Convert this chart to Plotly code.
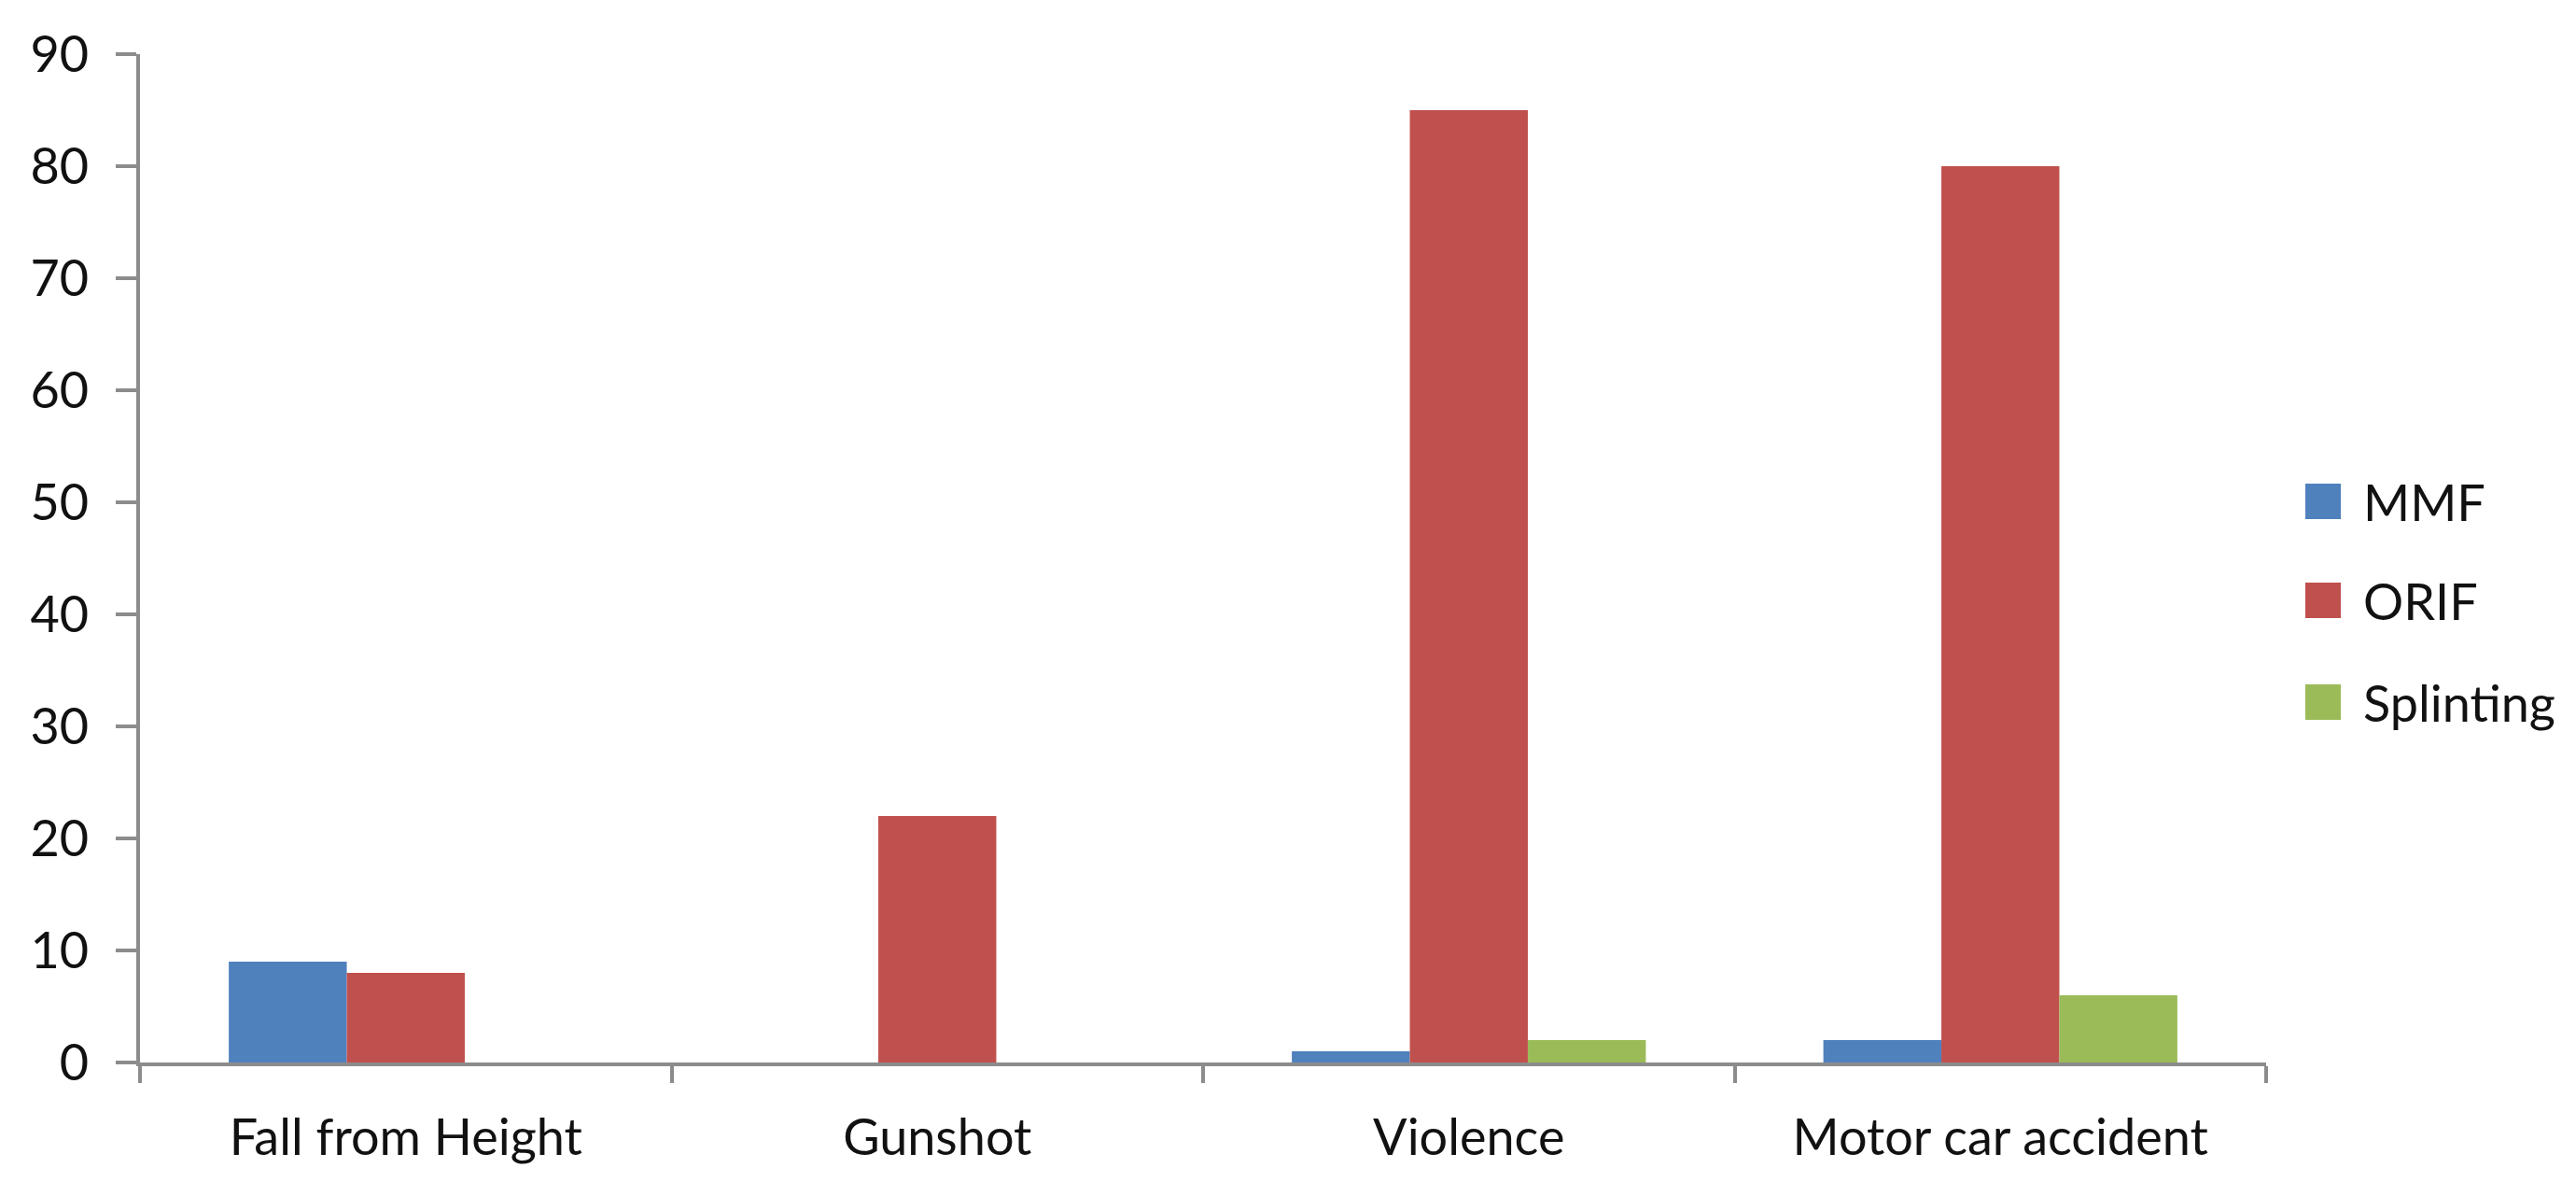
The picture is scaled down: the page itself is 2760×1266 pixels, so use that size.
import plotly.graph_objects as go

categories = ["Fall from Height", "Gunshot", "Violence", "Motor car accident"]
series_names = ["MMF", "ORIF", "Splinting"]
mmf = [9, 0, 1, 2]
orif = [8, 22, 85, 80]
splinting = [0, 0, 2, 6]
colors = ["#4F81BD", "#C0504D", "#9BBB59"]
y_ticks = [0, 10, 20, 30, 40, 50, 60, 70, 80, 90]

W, H = 2760, 1266
L, R, T, B = 142, 340, 50, 136

fig = go.Figure()
for name, vals, col in zip(series_names, [mmf, orif, splinting], colors):
    fig.add_trace(go.Bar(x=categories, y=vals, name=name,
                         marker=dict(color=col, line=dict(width=0)),
                         showlegend=False))

axis_col = "#8C8C8C"
font_fam = "Lato, 'Open Sans', sans-serif"
txt_col = "#111111"
fsize = 54

fig.update_layout(
    width=W, height=H,
    margin=dict(l=L, r=R, t=T, b=B, pad=0),
    paper_bgcolor="white", plot_bgcolor="white",
    barmode="group", bargap=0.334, bargroupgap=0,
    showlegend=False,
    font=dict(family=font_fam, color=txt_col),
)
fig.update_xaxes(
    showline=True, linecolor=axis_col, linewidth=4,
    ticks="outside", tickson="boundaries", ticklen=18, tickwidth=4, tickcolor=axis_col,
    tickfont=dict(size=fsize, family=font_fam, color=txt_col),
    ticklabelstandoff=30,
    showgrid=False, zeroline=False,
)
fig.update_yaxes(
    range=[0, 90], tickvals=y_ticks,
    showline=True, linecolor=axis_col, linewidth=4,
    ticks="outside", ticklen=22, tickwidth=4, tickcolor=axis_col,
    tickfont=dict(size=fsize, family=font_fam, color=txt_col),
    ticklabelstandoff=18,
    showgrid=False, zeroline=False,
)

# manual legend with large square keys, as in the original
pw, ph = W - L - R, H - T - B
sq = 38
sq_x0 = 2462
txt_x0 = 2522
leg_ys = [529, 635, 744]
for name, col, yc in zip(series_names, colors, leg_ys):
    fig.add_shape(type="rect", xref="paper", yref="paper",
                  x0=(sq_x0 - L) / pw, x1=(sq_x0 + sq - L) / pw,
                  y0=(H - B - (yc + sq / 2)) / ph, y1=(H - B - (yc - sq / 2)) / ph,
                  fillcolor=col, line=dict(width=0))
    fig.add_annotation(xref="paper", yref="paper",
                       x=(txt_x0 - L) / pw, y=(H - B - yc) / ph,
                       text=name, showarrow=False, xanchor="left", yanchor="middle",
                       font=dict(size=fsize, family=font_fam, color=txt_col))

fig.write_html("out.html")
